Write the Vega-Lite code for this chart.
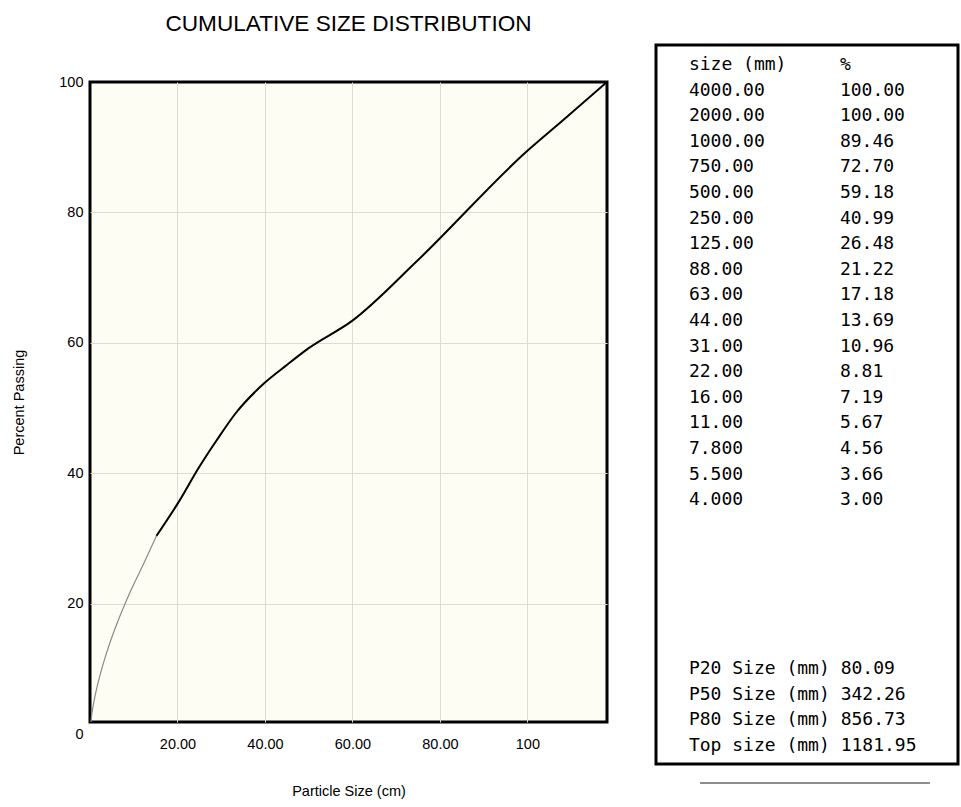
{
  "$schema": "https://vega.github.io/schema/vega-lite/v6.json",
  "background": "white",
  "padding": {"left": 10, "top": 11, "right": 0, "bottom": 0},
  "spacing": 45,
  "datasets": {
    "curve": [
      {"size_cm": 0, "pct": 0, "part": "fine"},
      {"size_cm": 0.4, "pct": 3.0, "part": "fine"},
      {"size_cm": 0.55, "pct": 3.66, "part": "fine"},
      {"size_cm": 0.78, "pct": 4.56, "part": "fine"},
      {"size_cm": 1.1, "pct": 5.67, "part": "fine"},
      {"size_cm": 1.6, "pct": 7.19, "part": "fine"},
      {"size_cm": 2.2, "pct": 8.81, "part": "fine"},
      {"size_cm": 3.1, "pct": 10.96, "part": "fine"},
      {"size_cm": 4.4, "pct": 13.69, "part": "fine"},
      {"size_cm": 6.3, "pct": 17.18, "part": "fine"},
      {"size_cm": 8.8, "pct": 21.22, "part": "fine"},
      {"size_cm": 12.5, "pct": 26.48, "part": "fine"},
      {"size_cm": 15.2, "pct": 30.4, "part": "fine"},
      {"size_cm": 15.2, "pct": 30.4, "part": "coarse"},
      {"size_cm": 20, "pct": 35.3, "part": "coarse"},
      {"size_cm": 25, "pct": 40.99, "part": "coarse"},
      {"size_cm": 29, "pct": 45.1, "part": "coarse"},
      {"size_cm": 33.3, "pct": 49.2, "part": "coarse"},
      {"size_cm": 40, "pct": 53.9, "part": "coarse"},
      {"size_cm": 45, "pct": 56.6, "part": "coarse"},
      {"size_cm": 50, "pct": 59.18, "part": "coarse"},
      {"size_cm": 60, "pct": 63.4, "part": "coarse"},
      {"size_cm": 75, "pct": 72.7, "part": "coarse"},
      {"size_cm": 100, "pct": 89.46, "part": "coarse"},
      {"size_cm": 108.4, "pct": 94.3, "part": "coarse"},
      {"size_cm": 118.195, "pct": 100, "part": "coarse"}
    ],
    "table": [
      {"line": 0, "size": "size (mm)", "pct": "%"},
      {"line": 1, "size": "4000.00", "pct": "100.00"},
      {"line": 2, "size": "2000.00", "pct": "100.00"},
      {"line": 3, "size": "1000.00", "pct": "89.46"},
      {"line": 4, "size": "750.00", "pct": "72.70"},
      {"line": 5, "size": "500.00", "pct": "59.18"},
      {"line": 6, "size": "250.00", "pct": "40.99"},
      {"line": 7, "size": "125.00", "pct": "26.48"},
      {"line": 8, "size": "88.00", "pct": "21.22"},
      {"line": 9, "size": "63.00", "pct": "17.18"},
      {"line": 10, "size": "44.00", "pct": "13.69"},
      {"line": 11, "size": "31.00", "pct": "10.96"},
      {"line": 12, "size": "22.00", "pct": "8.81"},
      {"line": 13, "size": "16.00", "pct": "7.19"},
      {"line": 14, "size": "11.00", "pct": "5.67"},
      {"line": 15, "size": "7.800", "pct": "4.56"},
      {"line": 16, "size": "5.500", "pct": "3.66"},
      {"line": 17, "size": "4.000", "pct": "3.00"},
      {"line": 23.6, "size": "P20 Size (mm) 80.09"},
      {"line": 24.6, "size": "P50 Size (mm) 342.26"},
      {"line": 25.6, "size": "P80 Size (mm) 856.73"},
      {"line": 26.6, "size": "Top size (mm) 1181.95"}
    ],
    "frame": [
      {"line_top": -0.78, "line_bottom": 27.3, "left": 0, "right": 1}
    ],
    "underline": [
      {"line": 28.05, "left": 0.146, "right": 0.907}
    ]
  },
  "hconcat": [
    {
      "width": 517,
      "height": 640,
      "title": {"text": "CUMULATIVE SIZE DISTRIBUTION", "font": "Liberation Sans", "fontSize": 22.6, "fontWeight": "normal", "color": "black", "offset": 38.5, "anchor": "middle"},
      "view": {"fill": "#fdfdf4", "stroke": "black", "strokeWidth": 3},
      "data": {"name": "curve"},
      "encoding": {
        "x": {
          "field": "size_cm", "type": "quantitative",
          "scale": {"domain": [0, 118.2], "nice": false, "zero": false},
          "axis": {
            "values": [20, 40, 60, 80, 100],
            "labelExpr": "datum.value >= 100 ? '100' : format(datum.value, '.2f')",
            "grid": true, "gridColor": "#dcdcd4", "gridWidth": 1,
            "domain": false, "ticks": false,
            "labelPadding": 15.5, "labelFont": "Liberation Sans", "labelFontSize": 14.5, "labelColor": "black",
            "title": "Particle Size (cm)", "titleFont": "Liberation Sans", "titleFontSize": 14.5, "titleFontWeight": "normal", "titleColor": "black", "titlePadding": 33
          }
        },
        "y": {
          "field": "pct", "type": "quantitative",
          "scale": {"domain": [1.85, 100], "nice": false, "zero": false},
          "axis": {
            "values": [1.85, 20, 40, 60, 80, 100],
            "labelExpr": "datum.value < 10 ? '0' : format(datum.value, 'd')",
            "labelOffset": {"condition": {"test": "datum.value < 10", "value": 12}, "value": 0},
            "grid": true, "gridColor": "#dcdcd4", "gridWidth": 1,
            "gridOpacity": {"condition": {"test": "datum.value < 10 || datum.value >= 100", "value": 0}, "value": 1},
            "domain": false, "ticks": false,
            "labelPadding": 7, "labelFont": "Liberation Sans", "labelFontSize": 14.5, "labelColor": "black",
            "title": "Percent Passing", "titleFont": "Liberation Sans", "titleFontSize": 14.5, "titleFontWeight": "normal", "titleColor": "black", "titlePadding": 32
          }
        }
      },
      "layer": [
        {
          "transform": [{"filter": "datum.part === 'fine'"}],
          "mark": {"type": "line", "interpolate": "monotone", "color": "#8a8a8a", "strokeWidth": 1.2, "clip": true}
        },
        {
          "transform": [{"filter": "datum.part === 'coarse'"}],
          "mark": {"type": "line", "interpolate": "monotone", "color": "black", "strokeWidth": 2, "clip": true}
        }
      ]
    },
    {
      "width": 302,
      "height": 640,
      "view": {"stroke": null, "fill": null},
      "resolve": {"scale": {"x": "independent"}},
      "layer": [
        {
          "data": {"name": "frame"},
          "mark": {"type": "rect", "fill": "white", "stroke": "black", "strokeWidth": 3, "clip": false},
          "encoding": {
            "x": {"field": "left", "type": "quantitative", "scale": {"domain": [0, 1], "nice": false, "zero": false}, "axis": null},
            "x2": {"field": "right"},
            "y": {"field": "line_top", "type": "quantitative", "scale": {"domain": [0.664, 25.664], "nice": false, "zero": false, "reverse": true}, "axis": null},
            "y2": {"field": "line_bottom"}
          }
        },
        {
          "data": {"name": "underline"},
          "mark": {"type": "rule", "color": "#8c8c8c", "strokeWidth": 2, "clip": false},
          "encoding": {
            "x": {"field": "left", "type": "quantitative", "axis": null},
            "x2": {"field": "right"},
            "y": {"field": "line", "type": "quantitative", "axis": null}
          }
        },
        {
          "data": {"name": "table"},
          "transform": [
            {"fold": ["size", "pct"], "as": ["col", "txt"]},
            {"filter": "datum.txt != null"}
          ],
          "mark": {"type": "text", "align": "left", "baseline": "middle", "font": "DejaVu Sans Mono", "fontSize": 18, "color": "black", "clip": false},
          "encoding": {
            "x": {"field": "col", "type": "nominal", "scale": {"type": "point", "domain": ["size", "pct"], "paddingOuter": 0.534, "align": 0.218}, "axis": null},
            "y": {"field": "line", "type": "quantitative", "axis": null},
            "text": {"field": "txt"}
          }
        }
      ]
    }
  ]
}
